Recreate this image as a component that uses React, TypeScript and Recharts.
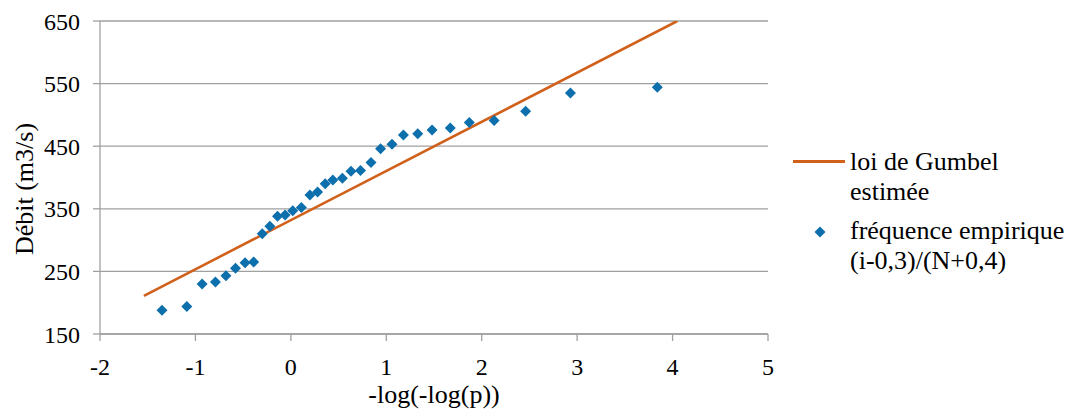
import React from 'react';
import { ScatterChart, Scatter, XAxis, YAxis, CartesianGrid, Label } from 'recharts';

const xTicks = [-2, -1, 0, 1, 2, 3, 4, 5];
const yTicks = [150, 250, 350, 450, 550, 650];

const empiricalX = [
  -1.35, -1.09, -0.93, -0.79, -0.68, -0.58, -0.48, -0.39, -0.30, -0.22, -0.14,
  -0.06, 0.02, 0.11, 0.20, 0.28, 0.36, 0.44, 0.54, 0.63, 0.73, 0.84, 0.94,
  1.06, 1.18, 1.33, 1.48, 1.67, 1.87, 2.13, 2.46, 2.93, 3.84,
];
const empiricalY = [
  188, 194, 230, 233, 243, 255, 264, 265, 310, 322, 338,
  340, 347, 352, 372, 377, 390, 396, 399, 410, 411, 424, 446,
  453, 468, 470, 476, 479, 488, 491, 506, 535, 544,
];

const gumbelX = [-1.54, 4.05];
const gumbelY = [211, 650];

const empirical = empiricalX.map((x, i) => ({ x, y: empiricalY[i] }));
const gumbel = gumbelX.map((x, i) => ({ x, y: gumbelY[i] }));

const FONT = "'Liberation Serif', serif";
const ORANGE = '#D1601B';
const BLUE = '#0D6FAB';
const GRID = '#A0A0A0';

const Diamond = (props: any) => {
  const { cx, cy } = props;
  if (cx == null || cy == null) return <g />;
  const r = 5.5;
  return (
    <polygon
      points={`${cx},${cy - r} ${cx + r},${cy} ${cx},${cy + r} ${cx - r},${cy}`}
      fill={BLUE}
    />
  );
};

const NoShape = () => <g />;

const YTitle = () => (
  <text
    x={16}
    y={181}
    transform="rotate(-90, 16, 181)"
    textAnchor="middle"
    dominantBaseline="central"
    fontSize={26}
    style={{ fontFamily: FONT }}
    fill="#000"
  >
    Débit (m3/s)
  </text>
);

export default function App() {
  return (
    <div style={{ position: 'relative', width: 1060, height: 404, fontFamily: FONT }}>
      <ScatterChart
        width={1060}
        height={404}
        margin={{ top: 13, right: 300, bottom: 4, left: 0 }}
        style={{ fontFamily: FONT }}
      >
        <CartesianGrid horizontal vertical={false} stroke={GRID} strokeWidth={1.3} />
        <XAxis
          type="number"
          dataKey="x"
          domain={[-2, 5]}
          ticks={xTicks}
          interval={0}
          height={74}
          stroke={GRID}
          strokeWidth={1.3}
          tickSize={7}
          tickMargin={17}
          tick={{ fill: '#000', fontSize: 24, style: { fontFamily: FONT } }}
          allowDataOverflow
        >
          <Label
            value="-log(-log(p))"
            position="insideBottom"
            offset={5}
            style={{ fill: '#000', fontSize: 26, fontFamily: FONT }}
          />
        </XAxis>
        <YAxis
          type="number"
          dataKey="y"
          domain={[150, 650]}
          ticks={yTicks}
          interval={0}
          width={92}
          stroke={GRID}
          strokeWidth={1.3}
          tickSize={7}
          tickMargin={13}
          tick={{ fill: '#000', fontSize: 24, style: { fontFamily: FONT } }}
          allowDataOverflow
        >
          <Label content={YTitle} />
        </YAxis>
        <Scatter
          name="loi de Gumbel estimée"
          data={gumbel}
          line={{ stroke: ORANGE, strokeWidth: 2.6 }}
          lineType="joint"
          shape={NoShape}
          isAnimationActive={false}
        />
        <Scatter
          name="fréquence empirique (i-0,3)/(N+0,4)"
          data={empirical}
          shape={Diamond}
          isAnimationActive={false}
        />
      </ScatterChart>
      <div style={{ position: 'absolute', left: 785, top: 152, width: 52, height: 2.6, background: ORANGE }} />
      <svg style={{ position: 'absolute', left: 805, top: 217 }} width={14} height={14}>
        <polygon points="7,1.5 12.5,7 7,12.5 1.5,7" fill={BLUE} />
      </svg>
      {[
        { t: 'loi de Gumbel', c: 154 },
        { t: 'estimée', c: 184 },
        { t: 'fréquence empirique', c: 223 },
        { t: '(i-0,3)/(N+0,4)', c: 253 },
      ].map((l) => (
        <div
          key={l.t}
          style={{
            position: 'absolute',
            left: 842,
            top: l.c - 15,
            height: 30,
            lineHeight: '30px',
            fontSize: 26,
            fontFamily: FONT,
            color: '#000',
            whiteSpace: 'nowrap',
          }}
        >
          {l.t}
        </div>
      ))}
    </div>
  );
}
